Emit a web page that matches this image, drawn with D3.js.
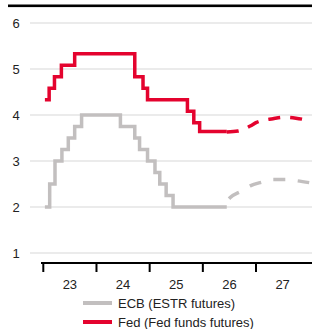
<!DOCTYPE html>
<html>
<head>
<meta charset="utf-8">
<script src="https://cdn.jsdelivr.net/npm/d3@7"></script>
<style>
  html, body { margin: 0; padding: 0; background: #fff; }
  svg { display: block; font-family: "Liberation Sans", Arial, sans-serif; }
</style>
</head>
<body>
<svg id="chart" width="312" height="329"></svg>
<script>
(() => {

    // Policy rate paths, x in fractional years, y in percent
    const fedDates  = [2023.03, 2023.11, 2023.21, 2023.34, 2023.59, 2024.72, 2024.875, 2024.96, 2025.71, 2025.83, 2025.94, 2026.45];
    const fedRates  = [4.33, 4.58, 4.83, 5.08, 5.33, 4.83, 4.58, 4.33, 4.08, 3.83, 3.64, 3.64];

    const ecbDates  = [2023.03, 2023.12, 2023.22, 2023.35, 2023.47, 2023.59, 2023.72, 2024.45, 2024.72, 2024.81, 2024.96, 2025.1, 2025.19, 2025.31, 2025.44, 2026.45];
    const ecbRates  = [2.0, 2.5, 3.0, 3.25, 3.5, 3.75, 4.0, 3.75, 3.5, 3.25, 3.0, 2.75, 2.5, 2.25, 2.0, 2.0];

    // Futures-implied paths (dashed)
    const fedFutDates = [2026.45, 2026.66, 2026.89, 2027.01, 2027.32, 2027.51, 2027.75, 2028.0];
    const fedFutRates = [3.63, 3.65, 3.76, 3.84, 3.92, 3.95, 3.93, 3.88];

    const ecbFutDates = [2026.45, 2026.51, 2026.73, 2026.89, 2027.11, 2027.32, 2027.55, 2027.77, 2028.0];
    const ecbFutRates = [2.12, 2.2, 2.35, 2.46, 2.54, 2.6, 2.6, 2.57, 2.53];

    const yTicks = [1, 2, 3, 4, 5, 6];
    const yearTicks = [2023, 2024, 2025, 2026, 2027];
    const yearLabels = ['23', '24', '25', '26', '27'];

    const seriesNames = ['ECB (ESTR futures)', 'Fed (Fed funds futures)'];
    const red = '#e4032e',
            grey = '#c2bfbf';

    const toPoints = (xs, ys) => xs.map((d, i) => ({ t: d, v: ys[i] }));

    const svg = d3.select('#chart');

    const x = d3.scaleLinear()
            .domain([2023, 2028])
            .range([43.3, 309.2]);

    const y = d3.scaleLinear()
            .domain([1, 6])
            .range([253, 23]);

    // Top rule
    svg.append('rect')
            .attr('x', 8)
            .attr('y', 4.5)
            .attr('width', 304)
            .attr('height', 2.6)
            .attr('fill', '#000');

    // Gridlines
    svg.append('g')
            .selectAll('line')
            .data(yTicks)
            .enter().append('line')
            .attr('x1', 30)
            .attr('x2', 312)
            .attr('y1', d => y(d))
            .attr('y2', d => y(d))
            .attr('stroke', '#e4e4e4')
            .attr('stroke-width', 1.5);

    svg.append('g')
            .selectAll('text')
            .data(yTicks)
            .enter().append('text')
            .attr('x', 16)
            .attr('y', d => y(d) + 4.5)
            .attr('text-anchor', 'middle')
            .attr('font-size', '13px')
            .attr('fill', '#222')
            .text(d => d);

    // X axis
    const xAxis = svg.append('g');
    xAxis.append('line')
            .attr('x1', 41)
            .attr('x2', 312)
            .attr('y1', 263)
            .attr('y2', 263)
            .attr('stroke', '#000')
            .attr('stroke-width', 2);

    xAxis.selectAll('.tick')
            .data(yearTicks)
            .enter().append('line')
            .attr('x1', d => x(d))
            .attr('x2', d => x(d))
            .attr('y1', 263)
            .attr('y2', 272)
            .attr('stroke', '#000')
            .attr('stroke-width', 2);

    xAxis.selectAll('text')
            .data(yearTicks)
            .enter().append('text')
            .attr('x', d => x(d + 0.5))
            .attr('y', 289)
            .attr('text-anchor', 'middle')
            .attr('font-size', '13px')
            .attr('fill', '#222')
            .text((d, i) => yearLabels[i]);

    const stepLine = d3.line()
            .x(d => x(d.t))
            .y(d => y(d.v))
            .curve(d3.curveStepAfter);

    const smoothLine = d3.line()
            .x(d => x(d.t))
            .y(d => y(d.v))
            .curve(d3.curveMonotoneX);

    const lines = svg.append('g')
            .attr('fill', 'none')
            .attr('stroke-width', 3.5);

    lines.append('path')
            .attr('d', stepLine(toPoints(ecbDates, ecbRates)))
            .attr('stroke', grey);

    lines.append('path')
            .attr('d', smoothLine(toPoints(ecbFutDates, ecbFutRates)))
            .attr('stroke', grey)
            .attr('stroke-dasharray', '0,3.5,12,9');

    lines.append('path')
            .attr('d', stepLine(toPoints(fedDates, fedRates)))
            .attr('stroke', red);

    lines.append('path')
            .attr('d', smoothLine(toPoints(fedFutDates, fedFutRates)))
            .attr('stroke', red)
            .attr('stroke-dasharray', '12,10');

    // Legend
    const legend = svg.append('g')
            .selectAll('g')
            .data(seriesNames)
            .enter().append('g')
            .attr('transform', (d, i) => `translate(0, ${303 + i * 19})`);

    legend.append('line')
            .attr('x1', 83)
            .attr('x2', 112)
            .attr('stroke', (d, i) => i === 0 ? grey : red)
            .attr('stroke-width', 4);

    legend.append('text')
            .attr('x', 118)
            .attr('y', 4.5)
            .attr('font-size', '13px')
            .attr('fill', '#222')
            .text(d => d);

})();
</script>
</body>
</html>
